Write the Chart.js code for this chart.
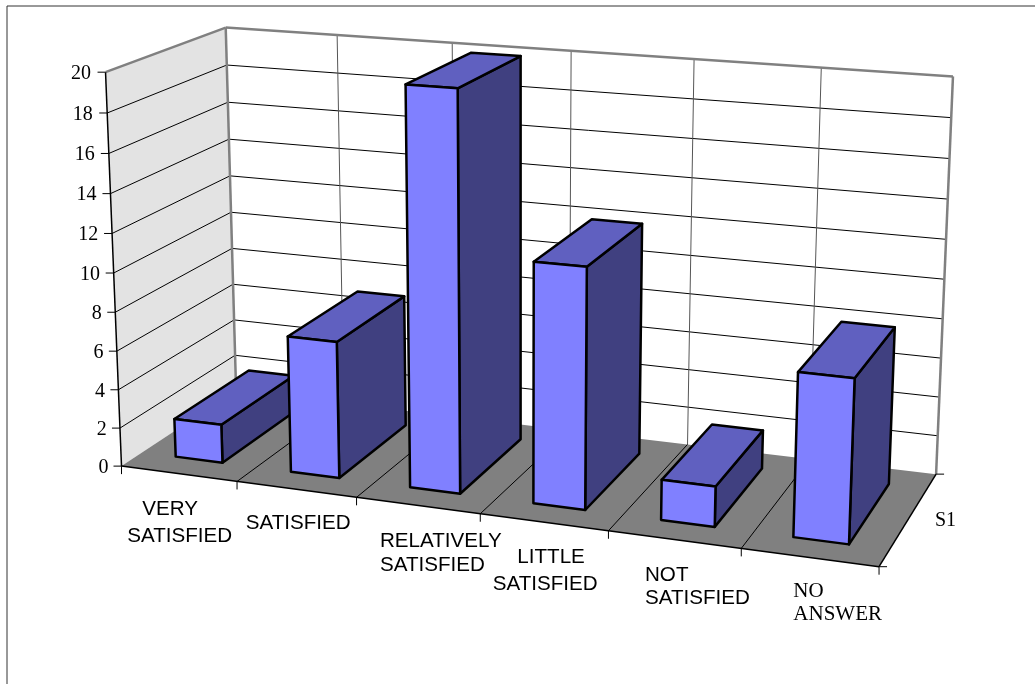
<!DOCTYPE html>
<html>
<head>
<meta charset="utf-8">
<title>Satisfaction</title>
<script src="https://cdn.jsdelivr.net/npm/chart.js@4"></script>
<style>
  html, body { margin: 0; padding: 0; background: #fff; }
  canvas { display: block; }
</style>
</head>
<body>
<canvas id="chart" width="1035" height="684"></canvas>
<script>
// data
const categories = [
  ["VERY", "SATISFIED"],
  ["SATISFIED"],
  ["RELATIVELY", "SATISFIED"],
  ["LITTLE", "SATISFIED"],
  ["NOT", "SATISFIED"],
  ["NO", "ANSWER"]
];
const seriesName = "S1";
const seriesValues = [2, 7, 20, 12, 2, 8];
const yMax = 20;
const yStep = 2;

// where the 3D box sits on the page: u along categories, v into depth, w up
const boxCorners = [
  [0, 0, 0, 120.7, 466.7],
  [1, 0, 0, 879.3, 566.7],
  [1, 1, 0, 935.7, 474],
  [0, 1, 0, 237, 390],
  [0, 0, 1, 106.7, 71],
  [1, 0, 1, 894.5, 132],
  [1, 1, 1, 953.7, 76],
  [0, 1, 1, 224.5, 28.5]
];
const barDepth = [0.17, 0.83];

// left x and baseline of every label line
const categoryLabelPos = [
  [[142.3, 515], [127.3, 541.7]],
  [[245.7, 529]],
  [[380, 546.7], [380, 570.7]],
  [[517.3, 562.7], [492.7, 590]],
  [[645, 581], [645, 604]],
  [[793.3, 597.3], [793.3, 620]]
];
const categoryLabelFonts = ["sans", "sans", "sans", "sans", "sans", "serif"];
const seriesLabelPos = [935, 526];

const SANS = '20.6px "Liberation Sans"';
const SERIF = '20px "Liberation Serif"';
const SERIF_CAT = '21px "Liberation Serif"';
const GREY = "#808080";

// least squares fit of a projective camera through the corners
function fitCamera(pts) {
  const rows = [];
  pts.forEach(([u, v, w, x, y]) => {
    rows.push([u, v, w, 1, 0, 0, 0, 0, -x * u, -x * v, -x * w, x]);
    rows.push([0, 0, 0, 0, u, v, w, 1, -y * u, -y * v, -y * w, y]);
  });
  const n = 11;
  const m = [];
  for (let i = 0; i < n; i++) {
    m.push([]);
    for (let j = 0; j <= n; j++) {
      m[i].push(rows.reduce((s, r) => s + r[i] * r[j], 0));
    }
  }
  for (let i = 0; i < n; i++) {
    let p = i;
    for (let k = i + 1; k < n; k++) {
      if (Math.abs(m[k][i]) > Math.abs(m[p][i])) p = k;
    }
    [m[i], m[p]] = [m[p], m[i]];
    for (let k = 0; k < n; k++) {
      if (k === i) continue;
      const f = m[k][i] / m[i][i];
      for (let j = i; j <= n; j++) m[k][j] -= f * m[i][j];
    }
  }
  return m.map((r, i) => r[n] / r[i]);
}

const cam = fitCamera(boxCorners);

function project(u, v, w) {
  const d = cam[8] * u + cam[9] * v + cam[10] * w + 1;
  return [
    (cam[0] * u + cam[1] * v + cam[2] * w + cam[3]) / d,
    (cam[4] * u + cam[5] * v + cam[6] * w + cam[7]) / d
  ];
}

function poly(ctx, pts, fill, stroke, lw) {
  ctx.beginPath();
  pts.forEach((p, i) => (i ? ctx.lineTo(p[0], p[1]) : ctx.moveTo(p[0], p[1])));
  ctx.closePath();
  if (fill) {
    ctx.fillStyle = fill;
    ctx.fill();
  }
  if (stroke) {
    ctx.strokeStyle = stroke;
    ctx.lineWidth = lw;
    ctx.stroke();
  }
}

function line(ctx, a, b, color, lw) {
  ctx.beginPath();
  ctx.moveTo(a[0], a[1]);
  ctx.lineTo(b[0], b[1]);
  ctx.strokeStyle = color;
  ctx.lineWidth = lw;
  ctx.stroke();
}

const box3d = {
  id: "box3d",

  // walls, floor, grid and axis text
  beforeDatasetsDraw(chart) {
    const ctx = chart.ctx;
    const yScale = chart.scales.y;
    const xScale = chart.scales.x;
    const area = chart.chartArea;
    const nCat = categories.length;
    const wOf = val => (area.bottom - yScale.getPixelForValue(val)) / (area.bottom - area.top);
    // category boundaries, half a step before the scale's own tick centres
    const uOf = i => (xScale.getPixelForValue(i - 0.5) - area.left) / (area.right - area.left);

    ctx.save();
    ctx.lineJoin = "miter";

    // chart border, only left and top are inside the picture
    line(ctx, [7, 684], [7, 6], "#333333", 1);
    line(ctx, [7, 6], [1035, 6], "#333333", 1);

    poly(ctx, [project(0, 0, 0), project(0, 1, 0), project(0, 1, 1), project(0, 0, 1)], "#e3e3e3");
    poly(ctx, [project(0, 0, 0), project(1, 0, 0), project(1, 1, 0), project(0, 1, 0)], GREY);

    // value grid on both walls
    yScale.ticks.forEach(t => {
      const w = wOf(t.value);
      if (t.value > 0 && t.value < yMax) {
        line(ctx, project(0, 0, w), project(0, 1, w), "#000", 1);
        line(ctx, project(0, 1, w), project(1, 1, w), "#000", 1);
      }
      const p = project(0, 0, w);
      line(ctx, p, [p[0] - 8, p[1]], "#000", 1);
      ctx.font = SERIF;
      ctx.fillStyle = "#000";
      ctx.textAlign = "right";
      ctx.textBaseline = "middle";
      ctx.fillText(String(t.value), p[0] - 13 - 1.5 * w, p[1] + 1.5);
    });

    // category grid on floor and back wall, ticks under the front edge
    for (let i = 0; i <= nCat; i++) {
      const u = uOf(i);
      if (i > 0 && i < nCat) {
        line(ctx, project(u, 1, 0), project(u, 1, 1), "#555555", 1);
        line(ctx, project(u, 0, 0), project(u, 1, 0), "#000", 1);
      }
      const p = project(u, 0, 0);
      line(ctx, p, [p[0], p[1] + 8], "#000", 1);
    }

    // box edges
    line(ctx, project(0, 0, 1), project(0, 1, 1), GREY, 2.5);
    line(ctx, project(0, 1, 1), project(1, 1, 1), GREY, 2.5);
    line(ctx, project(1, 1, 1), project(1, 1, 0), GREY, 2.5);
    line(ctx, project(0, 1, 1), project(0, 1, 0), GREY, 2.5);
    line(ctx, project(0, 0, 0), project(0, 0, 1), "#000", 1.5);
    line(ctx, project(0, 0, 0), project(1, 0, 0), "#000", 1.5);
    line(ctx, project(1, 0, 0), project(1, 1, 0), "#000", 1.5);
    const fr = project(1, 0, 0);
    const br = project(1, 1, 0);
    line(ctx, fr, [fr[0] + 8, fr[1]], "#000", 1);
    line(ctx, br, [br[0] + 8, br[1]], "#000", 1);

    // labels
    ctx.fillStyle = "#000";
    ctx.textAlign = "left";
    ctx.textBaseline = "alphabetic";
    categories.forEach((lines, i) => {
      ctx.font = categoryLabelFonts[i] === "serif" ? SERIF_CAT : SANS;
      lines.forEach((txt, j) => {
        const pos = categoryLabelPos[i][j];
        ctx.fillText(txt, pos[0], pos[1]);
      });
    });
    ctx.font = SERIF;
    ctx.fillText(seriesName, seriesLabelPos[0], seriesLabelPos[1]);
    ctx.restore();
  },

  // draw each bar as a block, from the pixels the bar scale gave it
  beforeDatasetDraw(chart, args) {
    const ctx = chart.ctx;
    const area = chart.chartArea;
    const uOfX = x => (x - area.left) / (area.right - area.left);
    const wOfY = y => (area.bottom - y) / (area.bottom - area.top);
    const [v0, v1] = barDepth;
    ctx.save();
    ctx.lineJoin = "round";
    args.meta.data.forEach(bar => {
      const u0 = uOfX(bar.x - bar.width / 2);
      const u1 = uOfX(bar.x + bar.width / 2);
      const w0 = wOfY(bar.base);
      const w1 = wOfY(bar.y);
      const face = [project(u0, v0, w0), project(u1, v0, w0), project(u1, v0, w1), project(u0, v0, w1)];
      const side = [project(u1, v0, w0), project(u1, v1, w0), project(u1, v1, w1), project(u1, v0, w1)];
      const top = [project(u0, v0, w1), project(u1, v0, w1), project(u1, v1, w1), project(u0, v1, w1)];
      poly(ctx, side, "#404080", "#000", 2.5);
      poly(ctx, top, "#6060c0", "#000", 2.5);
      poly(ctx, face, "#8080ff", "#000", 2.5);
    });
    ctx.restore();
    return false;
  }
};

new Chart(document.getElementById("chart"), {
  type: "bar",
  data: {
    labels: categories,
    datasets: [{
      label: seriesName,
      data: seriesValues,
      backgroundColor: "#8080ff",
      borderColor: "#000",
      barPercentage: 0.41,
      categoryPercentage: 1
    }]
  },
  options: {
    responsive: false,
    animation: false,
    layout: { padding: { left: 120, right: 155, top: 71, bottom: 218 } },
    plugins: { legend: { display: false }, tooltip: { enabled: false } },
    scales: {
      x: { display: false },
      y: { display: false, min: 0, max: yMax, ticks: { stepSize: yStep } }
    }
  },
  plugins: [box3d]
});
</script>
</body>
</html>
